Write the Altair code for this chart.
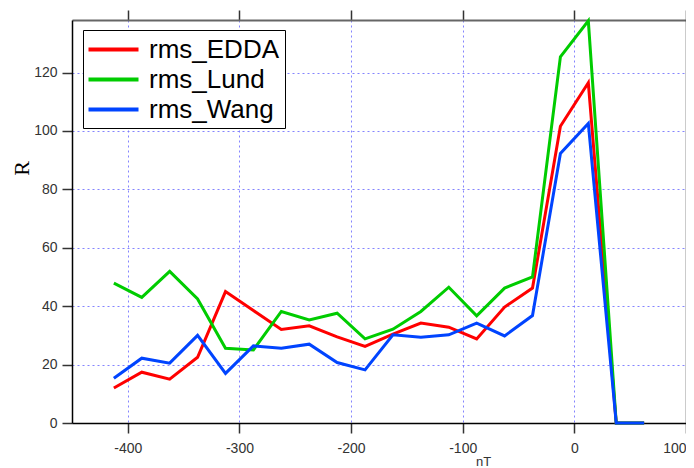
import altair as alt
import pandas as pd

nT = [-412.5, -387.5, -362.5, -337.5, -312.5, -287.5, -262.5, -237.5, -212.5, -187.5,
      -162.5, -137.5, -112.5, -87.5, -62.5, -37.5, -12.5, 12.5, 37.5, 62.5]

rms_EDDA = [12.0, 17.4, 15.0, 22.5, 45.0, 38.5, 32.0, 33.3, 29.5, 26.2,
            30.4, 34.2, 32.8, 28.8, 39.7, 46.2, 101.6, 116.5, 0.0, 0.0]
rms_Lund = [47.9, 43.0, 51.9, 42.5, 25.6, 25.0, 38.2, 35.3, 37.6, 28.8,
            32.1, 38.2, 46.5, 36.7, 46.2, 50.0, 125.4, 137.7, 0.0, 0.0]
rms_Wang = [15.3, 22.2, 20.5, 30.0, 17.0, 26.4, 25.6, 27.0, 20.7, 18.2,
            30.2, 29.4, 30.2, 34.2, 29.8, 36.8, 92.3, 102.6, 0.0, 0.0]

series_names = ["rms_EDDA", "rms_Lund", "rms_Wang"]
series_colors = ["#ff0000", "#00cc00", "#0044ff"]
x_ticks = [-400, -300, -200, -100, 0, 100]
y_ticks = [0, 20, 40, 60, 80, 100, 120]

rows = []
for name, vals in zip(series_names, [rms_EDDA, rms_Lund, rms_Wang]):
    for xv, yv in zip(nT, vals):
        rows.append({"nT": xv, "R": yv, "series": name})
df = pd.DataFrame(rows)

xscale = alt.Scale(domain=[-450, 100], nice=False, zero=False)
yscale = alt.Scale(domain=[0, 138], nice=False)

grid_common = dict(
    grid=True, gridColor="#7777ff", gridDash=[2, 3], gridWidth=1, gridOpacity=0.9,
    domainColor="#000000", domainWidth=1.5, tickColor="#333333", tickSize=10,
    tickWidth=1.5,
)

bottom_axis = alt.Axis(
    orient="bottom", values=x_ticks, title="nT", titleX=411, titleY=32,
    titleFont="Liberation Sans", titleFontSize=13, titleFontWeight="normal",
    titleColor="#333333", titleBaseline="top", titleAlign="center",
    labelFont="Liberation Sans", labelFontSize=14, labelColor="#333333",
    labelPadding=8, labelExpr="toString(datum.value)", **grid_common,
)
left_axis = alt.Axis(
    orient="left", values=y_ticks, title="R", titleX=-51, titleY=148,
    titleFont="Liberation Serif", titleFontSize=22, titleFontWeight="normal",
    titleColor="#000000", titleAlign="center", titleBaseline="middle",
    titleAngle=270,
    labelFont="Liberation Sans", labelFontSize=14, labelColor="#333333",
    labelPadding=5, labelExpr="toString(datum.value)", **grid_common,
)
top_axis = alt.Axis(
    orient="top", values=x_ticks, labels=False, title=None, grid=False,
    domainColor="#666666", domainWidth=2, tickColor="#333333", tickSize=10,
    tickWidth=1.5,
)
right_axis = alt.Axis(
    orient="right", values=y_ticks, labels=False, title=None, grid=False,
    domainColor="#333333", domainWidth=1.5, tickColor="#333333", tickSize=10,
    tickWidth=1.5,
)

lines = alt.Chart(df).mark_line(strokeWidth=3).encode(
    x=alt.X("nT:Q", scale=xscale, axis=bottom_axis),
    y=alt.Y("R:Q", scale=yscale, axis=left_axis),
    color=alt.Color(
        "series:N",
        scale=alt.Scale(domain=series_names, range=series_colors),
        legend=alt.Legend(
            title=None, orient="none", legendX=11, legendY=10,
            direction="vertical", symbolType="M-2,0H2", symbolSize=625,
            symbolStrokeWidth=4, symbolOffset=11,
            labelFontSize=26, labelFont="Liberation Sans",
            labelColor="#000000", strokeColor="#000000", fillColor="#ffffff",
            padding=5, rowPadding=2, labelOffset=21, labelLimit=300,
        ),
    ),
    order=alt.Order("nT:Q"),
)

frame = alt.Chart(df).mark_line(opacity=0).encode(
    x=alt.X("nT:Q", scale=xscale, axis=top_axis),
    y=alt.Y("R:Q", scale=yscale, axis=right_axis),
    detail="series:N",
)

chart = alt.layer(lines, frame).resolve_axis(x="independent", y="independent").properties(
    width=614, height=403,
    autosize=alt.AutoSizeParams(type="none"),
    padding={"left": 64, "top": 12, "right": 0, "bottom": 45},
    background="#ffffff",
).configure_view(stroke=None)

chart.save("out.html", embed_options={"renderer": "svg", "actions": False})
